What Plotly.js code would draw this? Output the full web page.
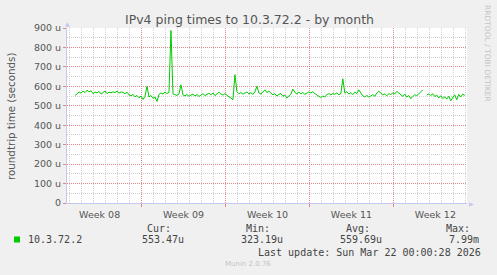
<!DOCTYPE html>
<html>
<head>
<meta charset="utf-8">
<script src="https://cdn.plot.ly/plotly-3.0.1.min.js"></script>
<style>html,body{margin:0;padding:0;background:#f0f0f0;}#chart{width:497px;height:275px;}
#chart .gridlayer path, #chart .minor-gridlayer path{shape-rendering:crispEdges !important;}</style>
</head>
<body>
<div id="chart"></div>
<script>
// ---- data (round-trip times in microseconds, one sample every 4 hours) ----
const seriesName = "10.3.72.2";
const firstSample = Date.UTC(2026, 1, 17, 10, 48); // Feb 17 2026 10:48
const sampleStepHours = 4;
const rttMicro = [
  553, 560, 571, 565, 576,  568, 580, 572, 577, 562,
  571, 566, 574, 560, 569,  576, 563, 570, 567, 572,
  568, 575, 565, 571, 569,  562, 570, 556, 551, 559,
  546, 553, 541, 550, 532,  548, 600, 545,
  553, 538, 545, 522, 558,  566, 560, 571, 563, 568,
  887, 562, 557, 553, 560,  608, 556, 551, 558, 549,
  555, 560, 551, 557, 548,  556, 562, 553, 559, 564,
  557, 566, 552, 561, 570,  560, 555, 563, 552, 546,
  540, 531, 660, 572, 562,  568, 560, 565, 571, 561,
  567, 558, 572, 600, 566,  560, 571, 582, 568, 575,
  566, 556, 562, 550, 558,  563, 549, 555, 540, 552,
  560, 586, 569, 561, 570,  562, 568, 559, 565, 571,
  566, 572, 563, 554, 548,  543, 550, 545, 558, 562,
  556, 563, 559, 566, 557,  562, 639, 565, 572, 560,
  568, 557, 570, 563, 582,  566, 551, 546, 553, 545,
  550, 557, 549, 566, 575,  563, 556, 560, 552, 562,
  558, 566, 561, 574, 566,  556, 549, 560, 545, 553,
  536, 548, 557, 551, 560,  570, 582, null, 556,
  560, 553, 562, 548, 555,  540, 552, 537, 546, 534,
  549, 526, 545, 556, 531,  558, 546, 560, 553
];
const yTickVals = [0, 100, 200, 300, 400, 500, 600, 700, 800, 900];
const yTickText = ["0", "100 u", "200 u", "300 u", "400 u", "500 u", "600 u", "700 u", "800 u", "900 u"];
const legendHeads = ["Cur:", "Min:", "Avg:", "Max:"];
const legendValues = ["553.47u", "323.19u", "559.69u", "7.99m"];
const lastUpdate = "Last update: Sun Mar 22 00:00:28 2026";

const times = rttMicro.map((_, i) => firstSample + i * sampleStepHours * 3600000);

// ---- layout helpers (pixel -> paper) ----
const L = 67, R = 30, T = 28, B = 72, W = 497, H = 275;
const pw = W - L - R, ph = H - T - B;
const px = x => (x - L) / pw;
const py = y => (H - B - y) / ph;
function txt(text, x, y, opt) {
  opt = opt || {};
  return Object.assign({
    text: text, xref: 'paper', yref: 'paper', x: px(x), y: py(y),
    xanchor: opt.xa || 'left', yanchor: 'middle', showarrow: false,
    borderpad: 0,
    font: {family: opt.family || 'DejaVu Sans', size: opt.size || 10, color: opt.color || '#444'}
  }, opt.extra || {});
}

const red = '#e28888', grey = '#d0d0d0', axisCol = '#c4c8f2';
const mono = 'DejaVu Sans Mono';
const heads_r = [172, 271, 371, 471];
const vals_r = [185, 284, 383, 480];

const annotations = [
  txt('IPv4 ping times to 10.3.72.2 - by month', 249, 19, {xa: 'center', size: 12.5, color: '#555'}),
  txt('roundtrip time (seconds)', 11, 116, {xa: 'center', size: 10.3, color: '#555', extra: {textangle: -90}}),
  txt('RRDTOOL / TOBI OETIKER', 488, 53, {xa: 'center', size: 7.5, color: '#c4c4c4', extra: {textangle: 90}}),
  txt('Munin 2.0.76', 248, 264, {xa: 'center', size: 7, color: '#c4c4c4'}),
  txt('▲', 67, 23, {xa: 'center', size: 6, color: axisCol}),
  txt('▶', 471, 203, {xa: 'center', size: 6, color: axisCol}),
  txt(seriesName, 27, 239.5, {family: mono, size: 10}),
  txt(lastUpdate, 482, 252.5, {xa: 'right', family: mono, size: 10})
];
legendHeads.forEach((h, i) => annotations.push(txt(h, heads_r[i], 228, {xa: 'right', family: mono, size: 10})));
legendValues.forEach((v, i) => annotations.push(txt(v, vals_r[i], 239.5, {xa: 'right', family: mono, size: 10})));

const shapes = [{
  type: 'rect', xref: 'paper', yref: 'paper',
  x0: px(14), x1: px(20), y0: py(242.5), y1: py(236.5),
  fillcolor: '#00cc00', line: {width: 0}
}];

const trace = {
  x: times, y: rttMicro, type: 'scatter', mode: 'lines',
  line: {color: '#00cc00', width: 1}, connectgaps: false, hoverinfo: 'skip'
};

const layout = {
  width: W, height: H,
  margin: {l: L, r: R, t: T, b: B, pad: 0},
  paper_bgcolor: '#f0f0f0', plot_bgcolor: '#ffffff',
  showlegend: false,
  xaxis: {
    type: 'date',
    range: ['2026-02-16 18:40', '2026-03-22 03:20'],
    tick0: '2026-02-16', dtick: 604800000,
    ticklabelmode: 'period', tickformat: 'Week %V',
    showgrid: true, gridcolor: red, griddash: '1px,1px', gridwidth: 1,
    minor: {tick0: '2026-02-16', dtick: 86400000, showgrid: true, gridcolor: grey, griddash: '1px,1px', ticks: ''},
    showline: true, linecolor: axisCol, linewidth: 1,
    ticks: 'outside', ticklen: 3, tickcolor: red,
    tickfont: {family: 'DejaVu Sans', size: 9.5, color: '#555'},
    zeroline: false, fixedrange: true
  },
  yaxis: {
    range: [0, 900],
    tickvals: yTickVals, ticktext: yTickText,
    showgrid: true, gridcolor: red, griddash: '1px,1px', gridwidth: 1,
    minor: {dtick: 50, tick0: 0, showgrid: true, gridcolor: grey, griddash: '1px,1px', ticks: ''},
    showline: true, linecolor: axisCol, linewidth: 1,
    ticks: 'outside', ticklen: 3, tickcolor: red,
    tickfont: {family: 'DejaVu Sans', size: 9.5, color: '#555'},
    zeroline: false, fixedrange: true
  },
  annotations: annotations,
  shapes: shapes
};

Plotly.newPlot('chart', [trace], layout, {staticPlot: true, displayModeBar: false});
</script>
</body>
</html>
